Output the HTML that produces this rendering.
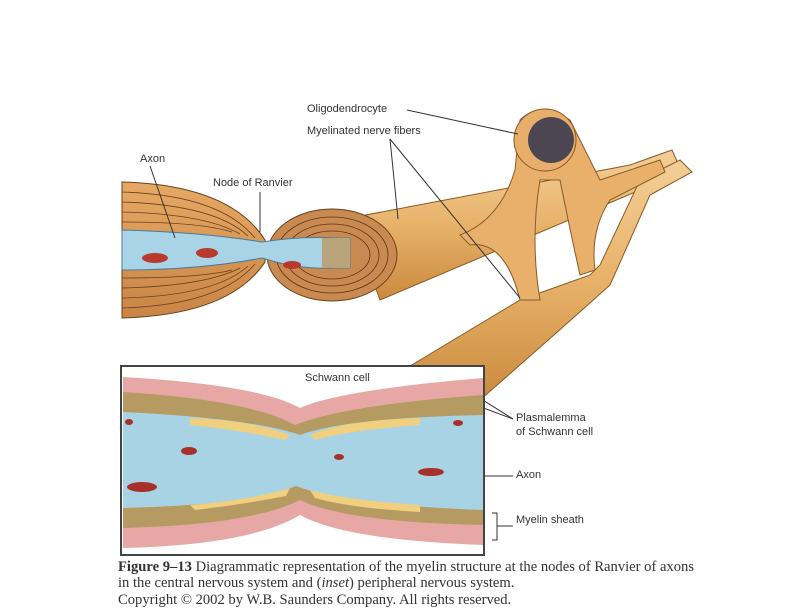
<!DOCTYPE html>
<html><head><style>
body{margin:0;background:#fff;width:800px;height:600px;overflow:hidden;position:relative;font-family:"Liberation Sans",sans-serif}
.l{position:absolute;font-size:11px;color:#333;white-space:nowrap}
.c{position:absolute;left:118px;font-family:"Liberation Serif",serif;font-size:14.6px;color:#333;white-space:nowrap}
</style></head><body>
<svg width="800" height="600" style="position:absolute;left:0;top:0">
<defs>
<linearGradient id="fib" x1="0" y1="0" x2="0" y2="1"><stop offset="0" stop-color="#f3cf96"/><stop offset=".5" stop-color="#e8b26a"/><stop offset="1" stop-color="#c98a3e"/></linearGradient>
<linearGradient id="my" x1="0" y1="0" x2="0" y2="1"><stop offset="0" stop-color="#e6a964"/><stop offset="1" stop-color="#c98446"/></linearGradient>
</defs>
<path d="M350,218 L630,165 L672,150 L680,168 L640,190 L380,300 Z" fill="url(#fib)" stroke="#8a5a25" stroke-width="1"/>
<path d="M400,372 Q470,330 520,300 L590,275 L600,265 L640,180 L680,160 L692,172 L650,195 L610,285 Q560,330 480,400 Z" fill="url(#fib)" stroke="#8a5a25" stroke-width="1"/>
<path d="M520,120 Q540,100 570,120 Q585,150 600,180 L660,160 L665,172 L610,200 Q590,230 595,270 L580,275 Q570,230 560,180 L540,180 Q530,240 540,300 L520,300 Q505,240 470,245 L460,235 Q500,220 515,170 Z" fill="#e8b06a" stroke="#8a5a25" stroke-width="1"/>
<circle cx="545" cy="140" r="31" fill="#e7ae6c" stroke="#8a5a25"/>
<circle cx="551" cy="140" r="23" fill="#4b4651"/>
<path d="M122,182 Q230,185 265,240 L265,262 Q230,315 122,318 Z" fill="url(#my)" stroke="#6b3f1a"/>
<g stroke="#6b3f1a" stroke-width=".8" fill="none">
<path d="M122,192 Q220,195 255,238"/><path d="M122,202 Q215,205 248,236"/><path d="M122,212 Q205,214 240,234"/><path d="M122,222 Q200,222 232,232"/>
<path d="M122,308 Q220,305 255,264"/><path d="M122,298 Q215,296 248,266"/><path d="M122,288 Q205,286 240,268"/><path d="M122,278 Q200,278 232,270"/>
</g>
<ellipse cx="332" cy="255" rx="65" ry="46" fill="#c98a52" stroke="#6b3f1a"/>
<g stroke="#5a3315" fill="none" stroke-width=".8">
<ellipse cx="332" cy="255" rx="56" ry="38"/><ellipse cx="332" cy="255" rx="47" ry="31"/><ellipse cx="332" cy="255" rx="38" ry="24"/>
</g>
<path d="M122,230 Q200,232 262,242 Q300,236 335,238 L350,238 L350,268 L335,268 Q300,270 262,258 Q200,270 122,270 Z" fill="#a9d3e6" stroke="#4c7b93"/>
<rect x="322" y="238" width="28" height="30" fill="#b8a47a"/>
<g fill="#b83a2e"><ellipse cx="155" cy="258" rx="13" ry="5"/><ellipse cx="207" cy="253" rx="11" ry="5"/><ellipse cx="292" cy="265" rx="9" ry="4"/></g>
<g stroke="#333" stroke-width="1" fill="none">
<path d="M407,110 L518,134"/><path d="M390,139 L398,219"/><path d="M390,139 L520,298"/>
<path d="M150,166 L175,238"/><path d="M260,192 L260,232"/>
<path d="M335,383 L350,400"/>
<path d="M513,419 L478,397"/><path d="M513,419 L462,400"/>
<path d="M472,476 L513,476"/>
<path d="M492,513 L497,513 L497,540 L492,540 M497,526 L513,526"/>
</g>
<rect x="121" y="366" width="363" height="189" fill="#fff" stroke="#444" stroke-width="2"/>
<path d="M123,377 Q260,385 300,408 Q340,390 483,378 L483,418 Q340,420 300,440 Q250,420 123,415 Z" fill="#e7a8a5"/>
<path d="M123,392 Q250,400 295,425 Q345,405 483,395 L483,418 Q345,420 300,438 Q250,418 123,412 Z" fill="#b59a62"/>
<path d="M123,412 Q250,418 300,435 Q345,418 483,415 L483,512 Q345,512 300,490 Q250,510 123,508 Z" fill="#a8d3e4"/>
<path d="M190,418 Q250,420 290,435 L285,440 Q240,430 190,425 Z M310,435 Q345,420 420,418 L420,425 Q350,430 315,440 Z" fill="#f0cf7e"/>
<path d="M123,508 Q250,505 296,486 Q345,505 483,510 L483,545 Q345,540 300,515 Q250,545 123,548 Z" fill="#e7a8a5"/>
<path d="M123,508 Q250,505 296,486 Q345,505 483,510 L483,525 Q345,522 300,500 Q250,525 123,528 Z" fill="#b59a62"/>
<path d="M190,505 Q250,500 290,488 L286,496 Q240,505 195,510 Z M310,490 Q345,500 420,505 L420,512 Q350,508 315,498 Z" fill="#f0cf7e"/>
<g fill="#a8302a"><ellipse cx="189" cy="451" rx="8" ry="4"/><ellipse cx="142" cy="487" rx="15" ry="5"/><ellipse cx="339" cy="457" rx="5" ry="3"/><ellipse cx="431" cy="472" rx="13" ry="4"/><ellipse cx="458" cy="423" rx="5" ry="3"/><ellipse cx="129" cy="422" rx="4" ry="3"/></g>
</svg>
<div class="l" style="left:307px;top:103px">Oligodendrocyte</div>
<div class="l" style="left:307px;top:125px">Myelinated nerve fibers</div>
<div class="l" style="left:140px;top:153px">Axon</div>
<div class="l" style="left:213px;top:177px">Node of Ranvier</div>
<div class="l" style="left:305px;top:372px">Schwann cell</div>
<div class="l" style="left:516px;top:412px">Plasmalemma</div>
<div class="l" style="left:516px;top:426px">of Schwann cell</div>
<div class="l" style="left:516px;top:469px">Axon</div>
<div class="l" style="left:516px;top:514px">Myelin sheath</div>
<div class="c" style="top:559px"><b>Figure 9–13</b> Diagrammatic representation of the myelin structure at the nodes of Ranvier of axons</div>
<div class="c" style="top:575px">in the central nervous system and (<i>inset</i>) peripheral nervous system.</div>
<div class="c" style="top:592px">Copyright © 2002 by W.B. Saunders Company. All rights reserved.</div>
</body></html>
